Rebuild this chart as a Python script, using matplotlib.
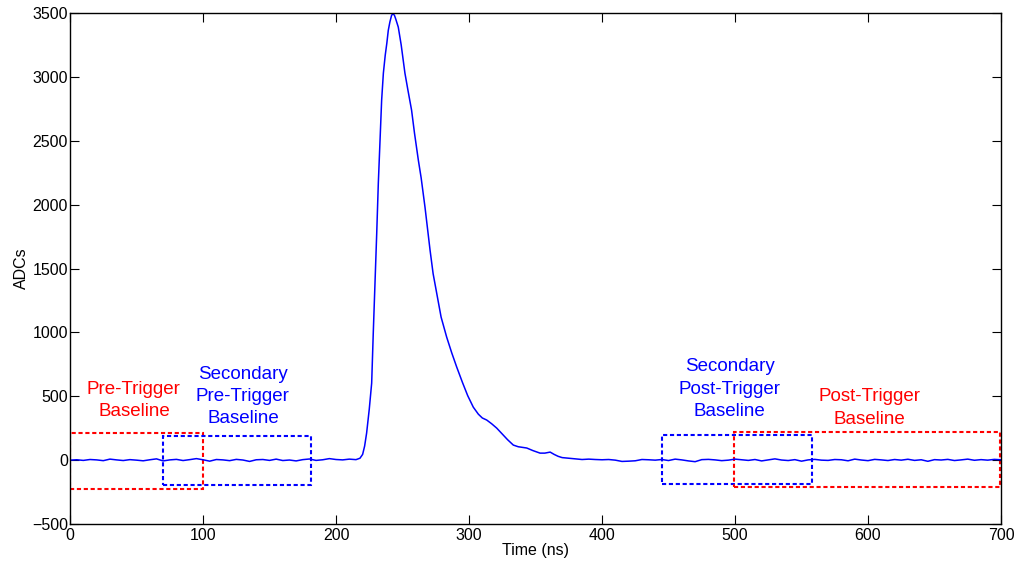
import numpy as np
import matplotlib
matplotlib.use('Agg')
import matplotlib.pyplot as plt
from matplotlib.patches import Rectangle

plt.rcParams['font.family'] = ['Liberation Sans', 'DejaVu Sans']

# Waveform
pre_t = np.arange(0, 216, 5)
pre_adc = [0, 3, -2, 5, 2, -4, 8, 2, -3, 4, 0, -5, 3, 10, -6, 2, 6, -3, 4, 12,
           3, -8, 5, 2, -4, 6, 1, -10, 3, 5, -2, 8, -3, 1, -6, 4, 9, -2, 3, 12,
           5, 2, 8, 4]

pulse_t = [218, 220, 221.5, 223, 225, 226.8, 228, 229.3, 230.6, 231.8, 233.1,
           234.3, 235.6, 237, 238.2, 239.3, 240.5, 241.8, 243, 244, 245, 246.8,
           249, 251.8, 254, 256.8, 259, 261.9, 264, 266.9, 270.7, 273, 275.7,
           279, 283.2, 287, 290.7, 295, 299, 303.2, 307, 310, 313.3, 317, 320.8,
           325, 329, 333.3, 337, 343.4, 348, 353.4, 357, 361, 364, 367]
pulse_adc = [15, 45, 110, 212, 400, 603, 995, 1386, 1777, 2168, 2505, 2818, 3030,
             3170, 3264, 3365, 3430, 3483, 3495, 3480, 3450, 3390, 3250, 3030,
             2900, 2740, 2560, 2348, 2210, 1980, 1644, 1460, 1308, 1120, 963, 840,
             730, 610, 505, 415, 360, 330, 314, 285, 251, 205, 160, 118, 105, 95,
             75, 55, 55, 63, 45, 30]

post_t = np.arange(370, 701, 5)
post_adc = [20, 15, 10, 5, 8, 5, 3, 5, 0, -10, -8, -5, 5, 3, 0, 5, -3, 8, 2, -6,
            -12, 4, 6, 2, -4, 0, 8, 3, -2, 5, -6, 2, 10, 1, -3, 4, -8, 2, 6, 0,
            -2, 5, 3, -5, 8, 1, -4, 6, 2, -3, 5, 0, 7, -2, 3, -9, 4, 1, 6, -3,
            2, 8, -1, 4, 0, 6, 3]

t = np.concatenate([pre_t, pulse_t, post_t])
adc = np.concatenate([pre_adc, pulse_adc, post_adc])

# Baseline windows: (start, end, low, high, colour)
windows = [
    (0, 100, -226, 212, 'red'),
    (70, 181, -195, 189, 'blue'),
    (445, 558, -187, 196, 'blue'),
    (499.5, 699, -213, 222, 'red'),
]

# Window labels: (text, x, y, colour)
labels = [
    ('Pre-Trigger\nBaseline', 48, 470, 'red'),
    ('Secondary\nPre-Trigger\nBaseline', 130, 496, 'blue'),
    ('Secondary\nPost-Trigger\nBaseline', 496, 556, 'blue'),
    ('Post-Trigger\nBaseline', 601, 408, 'red'),
]

fig = plt.figure(figsize=(10.18, 5.67), dpi=100)
ax = fig.add_axes([0.0688, 0.0758, 0.9145, 0.9012])

ax.plot(t, adc, color='#0000ff', lw=1.1)

for x0, x1, y0, y1, c in windows:
    ax.add_patch(Rectangle((x0, y0), x1 - x0, y1 - y0, fill=False, edgecolor=c,
                           lw=1.5, linestyle=(0, (2, 1.3))))

for txt, x, y, c in labels:
    ax.text(x, y, txt, color=c, fontsize=13.5, ha='center', va='center',
            linespacing=1.4)

ax.set_xlim(0, 700)
ax.set_ylim(-500, 3500)
ax.set_xticks(np.arange(0, 701, 100))
ax.set_yticks(np.arange(-500, 3501, 500))
ax.tick_params(direction='in', top=True, right=True, length=6.5, width=0.8,
               labelsize=11.5)
ax.tick_params(axis='y', pad=1.5)
ax.tick_params(axis='x', pad=3)
for s in ax.spines.values():
    s.set_linewidth(1.0)
ax.set_xlabel('Time (ns)', fontsize=11.5, labelpad=0)
ax.set_ylabel('ADCs', fontsize=11.5, labelpad=2)

fig.savefig('out.png', dpi=100)
